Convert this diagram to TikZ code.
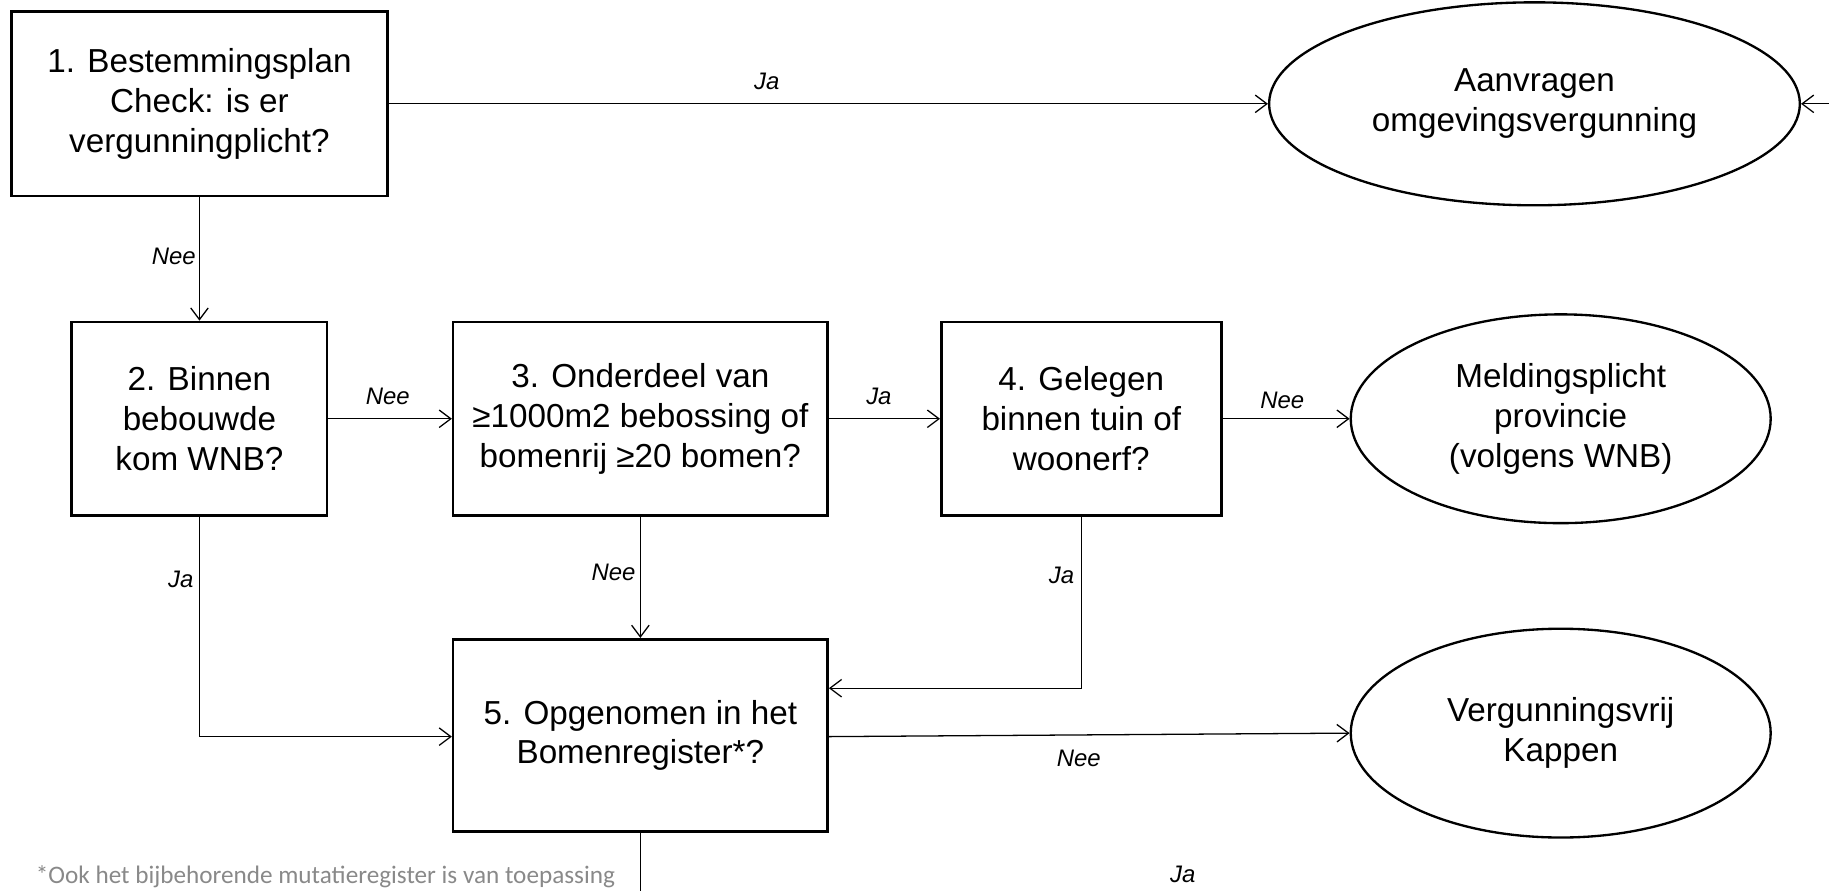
\documentclass[tikz,border=0pt]{standalone}
\usepackage{fontspec}
\setmainfont{Liberation Sans}
\newfontfamily\notefamily{Carlito}
\usetikzlibrary{arrows.meta,shapes.geometric}
\definecolor{notegray}{RGB}{137,137,137}
\newcommand\mainfs{\fontsize{28.5}{34}\selectfont}
\newcommand\labfs{\fontsize{20.5}{24}\selectfont\itshape}
\newcommand\notefs{\notefamily\fontsize{21.6}{26}\selectfont}
\begin{document}
\begin{tikzpicture}[x=1pt,y=-1pt,
  box/.style={draw, line width=2.2pt, rectangle, inner sep=0pt, align=center, font=\mainfs},
  oval/.style={draw, line width=2pt, ellipse, inner sep=0pt, align=center, font=\mainfs},
  conn/.style={line width=1.1pt, -{Straight Barb[length=10pt,width=15pt,line width=1.1pt]}},
  lab/.style={font=\labfs, inner sep=0pt}]
\useasboundingbox (0,0) rectangle (1568,763);

\node[box, minimum width=322pt, minimum height=158pt] (b1) at (171,89) {1. Bestemmingsplan\\Check: is er\\vergunningplicht?};
\node[box, minimum width=219pt, minimum height=166pt] (b2) at (171,359) {2. Binnen\\bebouwde\\kom WNB?};
\node[box, minimum width=321pt, minimum height=166pt] (b3) at (549,359) {3. Onderdeel van\\≥1000m2 bebossing of\\bomenrij ≥20 bomen?};
\node[box, minimum width=240pt, minimum height=166pt] (b4) at (927,359) {4. Gelegen\\binnen tuin of\\woonerf?};
\node[box, minimum width=321pt, minimum height=165pt] (b5) at (549,630.5) {5. Opgenomen in het\\Bomenregister*?};

\node[oval, minimum width=455pt, minimum height=174pt] (e1) at (1315.5,89) {Aanvragen\\omgevingsvergunning};
\node[oval, minimum width=360pt, minimum height=179pt] (e2) at (1338,359) {Meldingsplicht\\provincie\\(volgens WNB)};
\node[oval, minimum width=360pt, minimum height=179pt] (e3) at (1338,628.5) {Vergunningsvrij\\Kappen};

\coordinate (rin) at (1568,89);
\coordinate (out5) at (549,766);

\draw[conn] (b1.east) -- node[lab, pos=0.43, yshift=19pt] {Ja} (e1.west);
\draw[conn] (rin) -- (e1.east);
\draw[conn] (b1.south) -- node[lab, pos=0.48, xshift=-22pt] {Nee} (b2.north);
\draw[conn] (b2.east) -- node[lab, pos=0.48, yshift=19pt] {Nee} (b3.west);
\draw[conn] (b3.east) -- node[lab, pos=0.45, yshift=19pt] {Ja} (b4.west);
\draw[conn] (b4.east) -- node[lab, pos=0.47, yshift=16pt] {Nee} (e2.west);
\draw[conn] (b2.south) |- node[lab, pos=0.143, xshift=-16pt] {Ja} ([yshift=-1pt]b5.west);
\draw[conn] (b3.south) -- node[lab, pos=0.46, xshift=-23pt] {Nee} (b5.north);
\draw[conn] (b4.south) |- node[lab, pos=0.17, xshift=-17pt] {Ja} ([yshift=40.5pt]b5.east);
\draw[conn] ([yshift=-1pt]b5.east) -- node[lab, pos=0.48, yshift=-20pt] {Nee} (e3.west);
\draw[line width=1.1pt] (b5.south) -- (out5);
\node[lab] (jab) at (1014,750) {Ja};

\node[anchor=base west, font=\notefs, text=notegray, inner sep=0pt] (note) at (30.6,757) {*Ook het bijbehorende mutatieregister is van toepassing};
\end{tikzpicture}
\end{document}
